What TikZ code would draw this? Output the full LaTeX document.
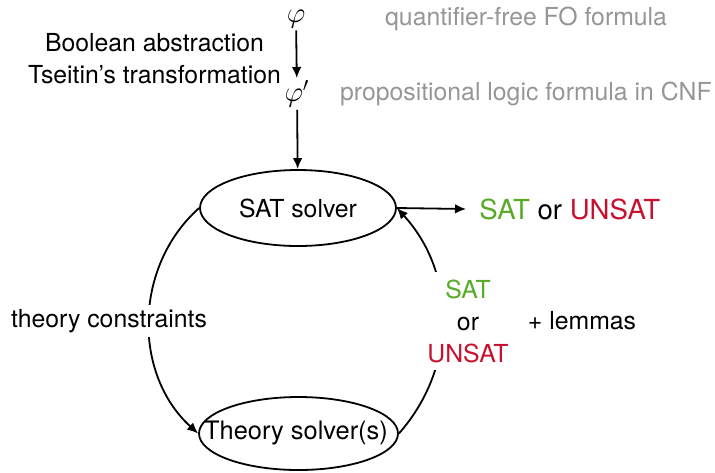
\documentclass[tikz,border=0pt]{standalone}
\usepackage{fontspec}
\setmainfont{TeX Gyre Heros}
\usetikzlibrary{shapes.geometric,arrows.meta}
\definecolor{satgreen}{RGB}{87,171,39}
\definecolor{unsatred}{RGB}{200,16,46}
\definecolor{notegray}{RGB}{150,150,150}
\tikzset{
  base/.style={font=\fontsize{12.4}{16}\selectfont},
  formula/.style={font=\fontsize{14.5}{16}\selectfont, inner sep=1pt},
  solver/.style={ellipse, draw, line width=0.9pt, inner sep=0pt},
  note/.style={base, text=notegray, anchor=west},
  lbl/.style={base, fill=white, inner sep=2pt},
  arr/.style={line width=0.9pt, -{Latex[length=5.5pt,width=4.8pt]}},
}
\begin{document}
\begin{tikzpicture}[x=0.5pt,y=-0.5pt]
\useasboundingbox (0,0) rectangle (715,472);
% formulas
\node[formula] (phi) at (296,19) {$\varphi$};
\node[formula] (phip) at (297,94) {$\varphi'$};
\node[note] (qf) at (378,19) {quantifier-free FO formula};
\node[note] (cnf) at (333,94) {propositional logic formula in CNF};
\node[base, align=center] (ba) at (154.5,59) {Boolean abstraction\\Tseitin’s transformation};
% solvers
\node[solver, minimum width=98pt, minimum height=38pt] (sat) at (298,208) {};
\node[base] (satt) at (sat) {SAT solver};
\node[solver, minimum width=99.5pt, minimum height=36.5pt] (th) at (298.5,433.5) {};
\node[font=\fontsize{12.7}{15}\selectfont] (tht) at (296,433) {Theory solver(s)};
% result
\coordinate (res) at (466,209);
\node[anchor=west, font=\fontsize{13.8}{16}\selectfont, inner sep=0pt] (out) at (479,209)
  {\textcolor{satgreen}{SAT} or \textcolor{unsatred}{UNSAT}};
% arrows
\draw[arr] (phi) -- (phip);
\draw[arr] (phip) -- (sat);
\draw[arr] (sat.east) -- (res);
\draw[arr] (sat.west) to[bend right=48] (th.west);
\draw[arr] (th.east) to[bend right=42] (sat.east);
% labels
\node[lbl] (tc) at (109,321) {theory constraints};
\node[lbl, align=center, inner sep=4pt] (ans) at (468,321)
  {\textcolor{satgreen}{SAT}\\or\\\textcolor{unsatred}{UNSAT}};
\node[base] (lem) at (582,321) {+ lemmas};
\end{tikzpicture}
\end{document}
